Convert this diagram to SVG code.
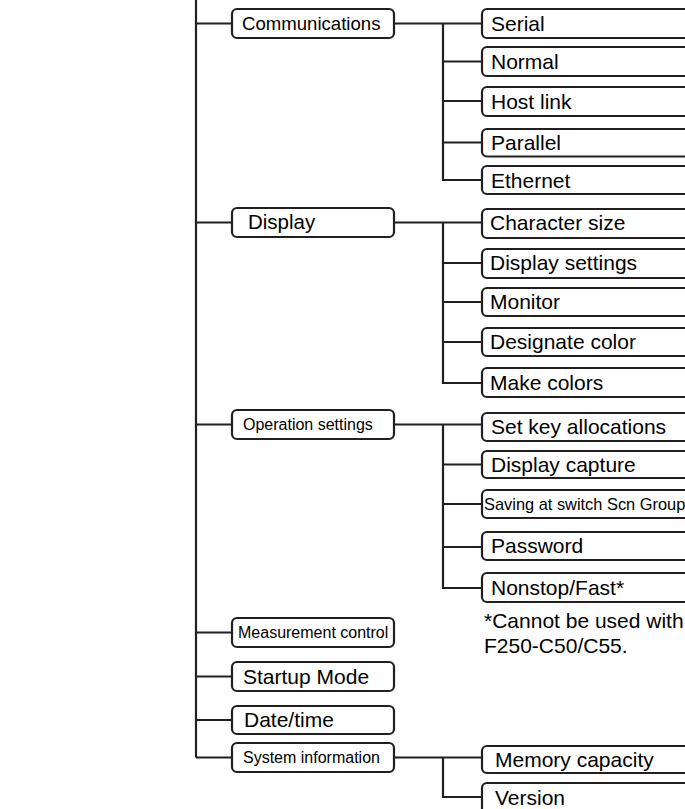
<svg xmlns="http://www.w3.org/2000/svg" width="685" height="809" viewBox="0 0 685 809">
<style>
.b{fill:#fff;stroke:#231f20;stroke-width:2.2}
.c{fill:none;stroke:#231f20;stroke-width:2.2}
text{font-family:"Liberation Sans",Arial,sans-serif;fill:#000}
.l{font-size:21px}
.s{font-size:16px}
</style>
<rect width="685" height="809" fill="#fff"/>
<g id="connectors" class="c">
<path d="M196 0V757.5M196 23.5H232M196 222.5H232M196 424.5H232M196 632.5H232M196 676.5H232M196 720H232M196 757.5H232"/>
<path d="M394 23.5H482M443 23.5V180H482M443 61.5H482M443 101H482M443 142.5H482"/>
<path d="M394 222.5H482M443 222.5V383H482M443 263H482M443 302H482M443 342H482"/>
<path d="M394 424.5H482M443 424.5V588H482M443 464.5H482M443 504H482M443 547H482"/>
<path d="M394 757.5H482M443 757.5V797H482"/>
</g>
<g id="communications"><rect class="b" x="232" y="9" width="162" height="29" rx="5"/><text x="242" y="30" style="font-size:18.6px">Communications</text></g>
<g id="display"><rect class="b" x="232" y="208" width="162" height="29" rx="5"/><text x="248" y="229" style="font-size:20.5px">Display</text></g>
<g id="operation-settings"><rect class="b" x="232" y="410" width="162" height="29" rx="5"/><text class="s" x="243" y="430">Operation settings</text></g>
<g id="measurement-control"><rect class="b" x="232" y="618" width="162" height="29" rx="5"/><text class="s" x="238" y="638">Measurement control</text></g>
<g id="startup-mode"><rect class="b" x="232" y="662" width="162" height="29" rx="5"/><text class="l" x="243" y="684">Startup Mode</text></g>
<g id="date-time"><rect class="b" x="232" y="706" width="162" height="28" rx="5"/><text class="l" x="244" y="727">Date/time</text></g>
<g id="system-information"><rect class="b" x="232" y="743" width="162" height="29" rx="5"/><text class="s" x="243" y="763">System information</text></g>

<g id="serial"><rect class="b" x="482" y="9" width="220" height="29" rx="5"/><text class="l" x="491" y="31">Serial</text></g>
<g id="normal"><rect class="b" x="482" y="47" width="220" height="29" rx="5"/><text class="l" x="491" y="69">Normal</text></g>
<g id="host-link"><rect class="b" x="482" y="87" width="220" height="29" rx="5"/><text class="l" x="491" y="109">Host link</text></g>
<g id="parallel"><rect class="b" x="482" y="129" width="220" height="27.5" rx="5"/><text class="l" x="491" y="150">Parallel</text></g>
<g id="ethernet"><rect class="b" x="482" y="166" width="220" height="28" rx="5"/><text class="l" x="491" y="188">Ethernet</text></g>

<g id="character-size"><rect class="b" x="482" y="209" width="220" height="29" rx="5"/><text class="l" x="490" y="230">Character size</text></g>
<g id="display-settings"><rect class="b" x="482" y="249" width="220" height="29" rx="5"/><text class="l" x="490" y="270">Display settings</text></g>
<g id="monitor"><rect class="b" x="482" y="288" width="220" height="28" rx="5"/><text class="l" x="490" y="309">Monitor</text></g>
<g id="designate-color"><rect class="b" x="482" y="328" width="220" height="28" rx="5"/><text class="l" x="490" y="349">Designate color</text></g>
<g id="make-colors"><rect class="b" x="482" y="368" width="220" height="29" rx="5"/><text class="l" x="490" y="390">Make colors</text></g>

<g id="set-key-allocations"><rect class="b" x="482" y="413" width="220" height="28" rx="5"/><text class="l" x="491" y="434">Set key allocations</text></g>
<g id="display-capture"><rect class="b" x="482" y="451" width="220" height="27" rx="5"/><text class="l" x="491" y="472">Display capture</text></g>
<g id="saving"><rect class="b" x="482" y="490" width="220" height="28" rx="5"/><text x="484" y="509.5" style="font-size:16.4px">Saving at switch Scn Group</text></g>
<g id="password"><rect class="b" x="482" y="532" width="220" height="28" rx="5"/><text class="l" x="491" y="553">Password</text></g>
<g id="nonstop-fast"><rect class="b" x="482" y="573" width="220" height="29" rx="5"/><text class="l" x="491" y="595">Nonstop/Fast*</text></g>

<g id="footnote"><text class="l" x="484" y="628">*Cannot be used with</text><text class="l" x="484" y="653">F250-C50/C55.</text></g>

<g id="memory-capacity"><rect class="b" x="482" y="746" width="220" height="27" rx="5"/><text class="l" x="495" y="767">Memory capacity</text></g>
<g id="version"><rect class="b" x="482" y="783" width="220" height="40" rx="5"/><text class="l" x="495" y="805">Version</text></g>
</svg>
